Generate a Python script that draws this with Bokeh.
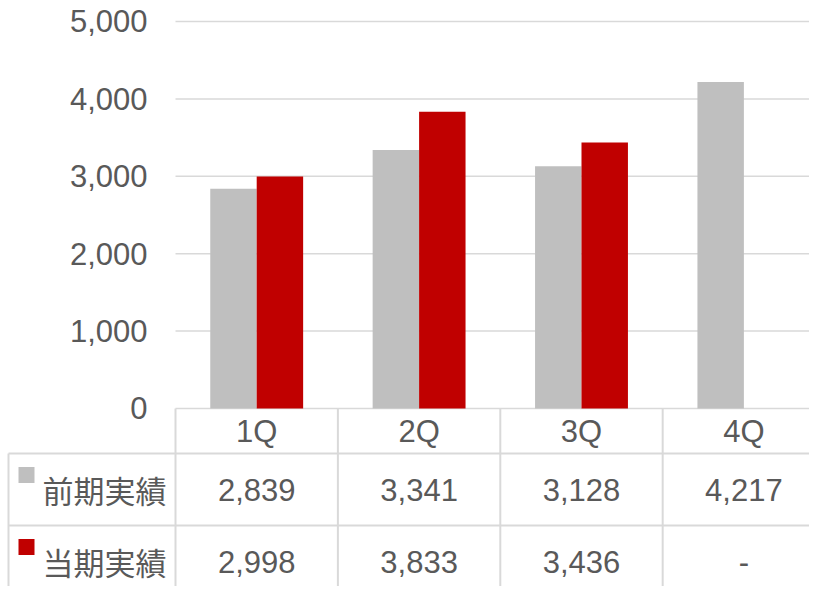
import numpy as np
from bokeh.plotting import figure
from bokeh.models import Range1d, FixedTicker, NumeralTickFormatter
from bokeh.core.properties import value
from bokeh.embed import file_html
from bokeh.resources import INLINE

# ---- data ----
quarters = ["1Q", "2Q", "3Q", "4Q"]
prev_results = [2839, 3341, 3128, 4217]
curr_results = [2998, 3833, 3436, None]
series_names = ["前期実績", "当期実績"]
series_colors = ["#bfbfbf", "#c00000"]
y_ticks = [0, 1000, 2000, 3000, 4000, 5000]

TEXT = "#595959"
LINE = "#d9d9d9"
FONT = value("Liberation Sans")
JFONT = value("Noto Sans CJK JP")
FS = "31px"

W, H = 809, 586
p = figure(width=W, height=H, output_backend="svg", toolbar_location=None,
           x_range=Range1d(-1.0776, 3.904), y_range=Range1d(-2300, 5271),
           min_border=0, min_border_left=0, min_border_right=0,
           min_border_top=0, min_border_bottom=0)
p.outline_line_color = None
p.xaxis.visible = False
p.xgrid.visible = False
p.ygrid.visible = False
p.background_fill_color = "white"

# pixel-based ranges for the table layout
p.extra_x_ranges = {"px": Range1d(0, W)}
p.extra_y_ranges = {"px": Range1d(H, 0)}

# y axis drawn inside the frame at x = 0
ya = p.yaxis[0]
ya.fixed_location = 0
ya.ticker = FixedTicker(ticks=y_ticks)
ya.formatter = NumeralTickFormatter(format="0,0")
ya.axis_line_color = None
ya.major_tick_line_color = None
ya.minor_tick_line_color = None
ya.major_tick_in = 0
ya.major_tick_out = 0
ya.major_label_standoff = 28
ya.major_label_text_font = "Liberation Sans"
ya.major_label_text_font_size = FS
ya.major_label_text_color = TEXT

n = len(quarters)
centers = np.arange(n) + 0.5
bw = 0.286

# gridlines
p.segment(x0=0, x1=n, y0=y_ticks, y1=y_ticks, line_color=LINE, line_width=1.5)

# bars
prev_arr = np.array(prev_results, dtype=float)
curr_arr = np.array([np.nan if v is None else v for v in curr_results], dtype=float)
p.vbar(x=centers - bw / 2, top=prev_arr, width=bw, bottom=0,
       fill_color=series_colors[0], line_color=None)
p.vbar(x=centers + bw / 2, top=curr_arr, width=bw, bottom=0,
       fill_color=series_colors[1], line_color=None)

# table lines
p.segment(x0=[8, 8], x1=[W, W], y0=[453, 525], y1=[453, 525],
          x_range_name="px", y_range_name="px", line_color=LINE, line_width=2)
p.segment(x0=list(range(n)), x1=list(range(n)), y0=[408] * n, y1=[H] * n,
          y_range_name="px", line_color=LINE, line_width=2)
p.segment(x0=[8], x1=[8], y0=[453], y1=[H],
          x_range_name="px", y_range_name="px", line_color=LINE, line_width=2)

# header
p.text(x=centers, y=[431] * n, text=quarters, y_range_name="px",
       text_align="center", text_baseline="middle", text_font=FONT,
       text_font_size=FS, text_color=TEXT)

def fmt(v):
    return "-" if v is None else f"{v:,}"

p.text(x=centers, y=[489] * n, text=[fmt(v) for v in prev_results], y_range_name="px",
       text_align="center", text_baseline="middle", text_font=FONT,
       text_font_size=FS, text_color=TEXT)
p.text(x=centers, y=[561] * n, text=[fmt(v) for v in curr_results], y_range_name="px",
       text_align="center", text_baseline="middle", text_font=FONT,
       text_font_size=FS, text_color=TEXT)

# row labels with legend keys
p.rect(x=[26, 26], y=[474.5, 546.5], width=16, height=16,
       x_range_name="px", y_range_name="px", fill_color=series_colors, line_color=None)
p.text(x=[42, 42], y=[489, 561], text=series_names, x_range_name="px", y_range_name="px",
       text_align="left", text_baseline="middle", text_font=JFONT,
       text_font_size=FS, text_color=TEXT)

open("out.html", "w").write(file_html(p, INLINE))
